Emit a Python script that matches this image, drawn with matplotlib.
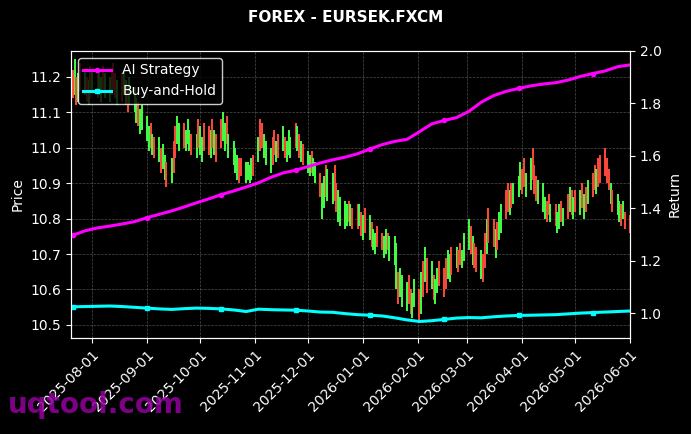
import numpy as np
import pandas as pd
import matplotlib
matplotlib.use('Agg')
import matplotlib.pyplot as plt
import matplotlib.dates as mdates

# daily bar ranges (low, high), one row per week Mon-Fri
lo = [11.14, 11.15, 11.12, 11.13, 11.16,
      11.15, 11.13, 11.12, 11.14, 11.16,
      11.14, 11.15, 11.13, 11.16, 11.14,
      11.13, 11.15, 11.16, 11.14, 11.12,
      11.13, 11.15, 11.12, 11.10, 11.12,
      11.10, 11.07, 11.06, 11.04, 11.05,
      11.02, 10.99, 11.00, 10.98, 10.97,
      10.96, 10.93, 10.94, 10.91, 10.89,
      10.90, 10.93, 10.97, 11.01, 10.99,
      11.00, 10.99, 11.01, 10.99, 10.98,
      10.97, 11.00, 10.98, 10.96, 10.99,
      10.98, 10.97, 11.00, 10.98, 10.96,
      11.00, 11.02, 10.99, 11.01, 10.97,
      10.95, 10.93, 10.91, 10.90, 10.92,
      10.90, 10.91, 10.90, 10.91, 10.92,
      10.96, 10.99, 11.00, 10.97, 10.95,
      10.93, 10.95, 10.98, 10.96, 10.97,
      10.99, 10.97, 10.96, 10.98, 10.97,
      11.00, 10.99, 10.97, 10.96, 10.95,
      10.93, 10.92, 10.93, 10.92, 10.90,
      10.86, 10.80, 10.83, 10.86, 10.85,
      10.84, 10.85, 10.82, 10.79, 10.78,
      10.77, 10.78, 10.79, 10.78, 10.77,
      10.77, 10.78, 10.75, 10.74, 10.76,
      10.74, 10.72, 10.71, 10.70, 10.72,
      10.71, 10.69, 10.70, 10.71, 10.68,
      10.67, 10.60, 10.56, 10.58, 10.55,
      10.54, 10.56, 10.53, 10.52, 10.55,
      10.51, 10.53, 10.58, 10.62, 10.59,
      10.60, 10.57, 10.56, 10.59, 10.61,
      10.58, 10.60, 10.63, 10.62, 10.64,
      10.66, 10.65, 10.67, 10.66, 10.68,
      10.71, 10.70, 10.67, 10.66, 10.65,
      10.63, 10.62, 10.66, 10.70, 10.73,
      10.72, 10.69, 10.71, 10.74, 10.76,
      10.80, 10.82, 10.81, 10.83, 10.84,
      10.86, 10.88, 10.87, 10.89, 10.86,
      10.88, 10.91, 10.87, 10.85, 10.84,
      10.82, 10.80, 10.79, 10.81, 10.79,
      10.78, 10.76, 10.77, 10.79, 10.78,
      10.80, 10.82, 10.81, 10.80, 10.82,
      10.81, 10.83, 10.80, 10.82, 10.84,
      10.86, 10.88, 10.87, 10.89, 10.90,
      10.92, 10.90, 10.88, 10.84, 10.82,
      10.81, 10.79, 10.78, 10.80, 10.77,
      10.76]
hi = [11.22, 11.25, 11.20, 11.21, 11.24,
      11.22, 11.20, 11.19, 11.23, 11.22,
      11.21, 11.22, 11.20, 11.23, 11.21,
      11.20, 11.22, 11.24, 11.21, 11.19,
      11.21, 11.22, 11.19, 11.18, 11.20,
      11.17, 11.14, 11.13, 11.11, 11.12,
      11.09, 11.06, 11.07, 11.04, 11.03,
      11.03, 11.00, 11.01, 10.98, 10.96,
      10.97, 11.02, 11.06, 11.09, 11.07,
      11.07, 11.05, 11.08, 11.05, 11.04,
      11.04, 11.08, 11.06, 11.03, 11.07,
      11.06, 11.05, 11.08, 11.05, 11.04,
      11.08, 11.10, 11.07, 11.09, 11.04,
      11.02, 11.00, 10.98, 10.97, 10.97,
      10.96, 10.96, 10.95, 10.97, 10.98,
      11.03, 11.08, 11.07, 11.04, 11.02,
      11.00, 11.03, 11.05, 11.02, 11.04,
      11.06, 11.03, 11.02, 11.05, 11.03,
      11.07, 11.06, 11.04, 11.02, 11.01,
      10.99, 10.98, 10.99, 10.97, 10.96,
      10.93, 10.90, 10.92, 10.95, 10.94,
      10.93, 10.95, 10.90, 10.88, 10.86,
      10.85, 10.84, 10.85, 10.84, 10.83,
      10.84, 10.84, 10.82, 10.81, 10.83,
      10.81, 10.79, 10.77, 10.76, 10.78,
      10.76, 10.75, 10.77, 10.76, 10.75,
      10.75, 10.73, 10.65, 10.66, 10.64,
      10.62, 10.64, 10.60, 10.59, 10.63,
      10.60, 10.65, 10.68, 10.72, 10.69,
      10.68, 10.64, 10.63, 10.66, 10.68,
      10.66, 10.69, 10.71, 10.70, 10.72,
      10.72, 10.71, 10.73, 10.71, 10.76,
      10.80, 10.78, 10.75, 10.73, 10.72,
      10.71, 10.70, 10.76, 10.80, 10.83,
      10.80, 10.77, 10.79, 10.82, 10.84,
      10.88, 10.90, 10.88, 10.90, 10.90,
      10.92, 10.96, 10.94, 10.97, 10.93,
      10.97, 11.00, 10.95, 10.92, 10.91,
      10.90, 10.86, 10.85, 10.87, 10.84,
      10.84, 10.82, 10.84, 10.85, 10.83,
      10.87, 10.89, 10.88, 10.86, 10.88,
      10.88, 10.90, 10.87, 10.89, 10.91,
      10.93, 10.95, 10.94, 10.97, 10.98,
      11.00, 10.97, 10.94, 10.90, 10.88,
      10.87, 10.85, 10.84, 10.85, 10.82,
      10.81]
# u = up day (green), d = down day (red)
updown = ("dudud" "ududu" "duudu" "udddu" "duudu"
          "uuduu" "uudud" "uduud" "udduu" "duuud"
          "uduud" "dudud" "duudu" "uuudd" "uuuud"
          "udduu" "uddud" "uduuu" "dudud" "uuduu"
          "duudu" "udduu" "uudud" "dudud" "uduud"
          "duudu" "uuduu" "udduu" "dudud" "uduud"
          "dduud" "udduu" "ududd" "uddud" "duduu"
          "ddudu" "uuddu" "udddu" "uuddu" "duudu"
          "dudud" "ududu" "ddudd" "dddud" "uudud"
          "d")

dates = pd.bdate_range('2025-07-21', '2026-06-01')

# weekly strategy curves (Mondays)
weeks = pd.date_range('2025-07-21', '2026-06-01', freq='7D')
ai_ret = [1.297, 1.314, 1.325, 1.332, 1.340, 1.349, 1.364, 1.377, 1.390, 1.405,
          1.421, 1.436, 1.452, 1.466, 1.481, 1.497, 1.518, 1.535, 1.545, 1.559,
          1.573, 1.585, 1.595, 1.608, 1.626, 1.643, 1.655, 1.663, 1.692, 1.722,
          1.735, 1.746, 1.770, 1.805, 1.830, 1.846, 1.857, 1.867, 1.874, 1.879,
          1.889, 1.903, 1.914, 1.924, 1.940, 1.947]
bh_ret = [1.024, 1.025, 1.026, 1.027, 1.025, 1.022, 1.019, 1.016, 1.014, 1.017,
          1.019, 1.018, 1.016, 1.012, 1.006, 1.015, 1.013, 1.012, 1.011, 1.008,
          1.004, 1.003, 0.998, 0.994, 0.992, 0.989, 0.982, 0.974, 0.968, 0.971,
          0.976, 0.981, 0.983, 0.982, 0.986, 0.989, 0.991, 0.992, 0.993, 0.994,
          0.997, 1.000, 1.002, 1.004, 1.006, 1.008]

fig = plt.figure(figsize=(6.91, 4.34), dpi=100, facecolor='black')
ax = fig.add_axes([0.1027, 0.2212, 0.809, 0.6613], facecolor='black')
ax2 = ax.twinx()

cols = ['#44ff44' if c == 'u' else '#ff4a3a' for c in updown]
ax.vlines(dates, lo, hi, colors=cols, linewidth=1.4, zorder=2)

ax2.plot(weeks, ai_ret, color='magenta', lw=2.2, marker='o', ms=3,
         markevery=6, label='AI Strategy')
ax2.plot(weeks, bh_ret, color='cyan', lw=2.2, marker='s', ms=3,
         markevery=6, label='Buy-and-Hold')

ax.set_xlim(pd.Timestamp('2025-07-20'), pd.Timestamp('2026-06-01'))
ax.set_ylim(10.463, 11.273)
ax2.set_ylim(0.905, 1.996)
ax.set_yticks([10.5, 10.6, 10.7, 10.8, 10.9, 11.0, 11.1, 11.2])
ax2.set_yticks([1.0, 1.2, 1.4, 1.6, 1.8, 2.0])

ax.xaxis.set_major_locator(mdates.MonthLocator())
ax.xaxis.set_major_formatter(mdates.DateFormatter('%Y-%m-%d'))
plt.setp(ax.get_xticklabels(), rotation=45, ha='right', rotation_mode='anchor')

ax.grid(True, color='gray', linestyle='--', linewidth=0.5, alpha=0.6)
for a in (ax, ax2):
    a.tick_params(colors='white', labelsize=10)
    for s in a.spines.values():
        s.set_color('white')

ax.set_ylabel('Price', color='white', fontsize=10)
ax2.set_ylabel('Return', color='white', fontsize=10)

leg = ax2.legend(loc='upper left', facecolor='black', edgecolor='white',
                 fontsize=10, framealpha=0.8)
for t in leg.get_texts():
    t.set_color('white')

fig.text(0.5, 0.96, 'FOREX - EURSEK.FXCM', color='white', fontsize=11,
         fontweight='bold', ha='center', va='center')
fig.text(0.012, 0.035, 'uqtool.com', color='#9400a0', fontsize=20,
         fontweight='bold', alpha=0.85, ha='left', va='bottom')

fig.savefig('out.png', dpi=100, facecolor='black')
